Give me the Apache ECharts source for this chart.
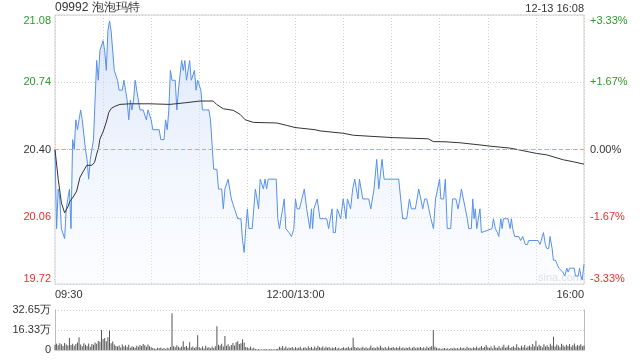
<!DOCTYPE html>
<html><head><meta charset="utf-8">
<script src="https://cdn.jsdelivr.net/npm/echarts@6/dist/echarts.min.js"></script>
<style>html,body{margin:0;padding:0;background:#fff}#c{width:640px;height:360px}</style>
</head><body><div id="c"></div>
<script>
const title = '09992 泡泡玛特';
const stamp = '12-13 16:08';
const prevClose = 20.40;
const xLabels = {0: '09:30', 150: '12:00/13:00', 330: '16:00'};
const volLabels = ['0', '16.33万', '32.65万'];

const minutes = [0,1,2,3,4,5,6,7,8,9,10,11,12,13,14,15,16,17,18,19,20,21,22,23,24,25,26,27,28,29,30,31,32,33,34,35,36,37,38,39,40,41,42,43,44,45,46,47,48,49,50,51,52,53,54,55,56,57,58,59,60,61,62,63,64,65,66,67,68,69,70,71,72,73,74,75,76,77,78,79,80,81,82,83,84,85,86,87,88,89,90,91,92,93,94,95,96,97,98,99,100,101,102,103,104,105,106,107,108,109,110,111,112,113,114,115,116,117,118,119,120,121,122,123,124,125,126,127,128,129,130,131,132,133,138,139,140,143,144,146,147.5,149,150,151,152.5,154,155.5,157,159,160,160.7,161.5,162.4,163.6,164.4,165.3,169.5,170.7,171.5,172.8,173.6,174.9,176.1,177,178.2,179,179.8,180.7,181.5,182.4,183.6,184.4,185.7,187,188.2,189,189.9,190.7,192,195.7,197,197.8,199,200.7,202,202.8,204,205.3,214.4,216.9,219.4,221.1,222.3,224.8,226.9,228.2,229.4,230.6,231.9,233.2,234.5,236.1,237.4,238.6,239.9,240.7,242.4,243.5,244.7,246.8,248,250.1,251.4,252.6,253.5,254.7,256,257.2,258.1,259.7,260.6,261.4,262.2,263.1,263.9,265.1,266,272.6,273.5,274.7,276,276.8,278.1,278.9,279.7,282.6,283.9,284.7,285.5,286.8,289.3,290.5,291.8,293.4,294.7,295.5,301.3,302.6,303.8,304.7,305.9,306.7,308,308.8,310.1,310.9,312.2,313.4,314.3,315.5,316.8,318,319.3,320.1,321,323.9,324.7,326.4,327.2,328.1,328.9,330];
const prices = [20.40,20.00,20.20,20.15,20.00,20.00,19.95,20.10,20.15,20.20,20.00,20.45,20.40,20.55,20.50,20.55,20.60,20.55,20.55,20.40,20.35,20.25,20.35,20.40,20.45,20.45,20.85,20.75,20.90,20.90,20.95,20.90,20.80,21.00,21.05,21.00,21.00,20.80,20.80,20.75,20.70,20.70,20.70,20.75,20.70,20.65,20.55,20.65,20.60,20.65,20.75,20.70,20.70,20.60,20.60,20.60,20.60,20.55,20.60,20.60,20.55,20.50,20.50,20.50,20.50,20.50,20.45,20.45,20.45,20.55,20.50,20.60,20.80,20.75,20.75,20.75,20.60,20.70,20.70,20.85,20.80,20.85,20.75,20.75,20.85,20.75,20.75,20.80,20.70,20.75,20.75,20.70,20.60,20.60,20.60,20.60,20.60,20.55,20.55,20.30,20.30,20.30,20.20,20.20,20.20,20.10,20.20,20.20,20.25,20.25,20.15,20.15,20.10,20.10,20.05,20.05,20.05,19.94,19.88,20.00,20.10,20.00,20.00,20.00,20.10,20.20,20.20,20.10,20.25,20.25,20.20,20.25,20.20,20.25,20.25,20.05,20.00,20.15,20.00,19.98,19.96,20.00,20.15,20.10,20.10,20.15,20.20,20.10,20.00,20.10,20.00,20.10,20.10,20.15,20.15,20.05,20.05,20.00,20.00,20.10,19.98,19.98,20.10,20.10,20.05,20.05,20.15,20.10,20.05,20.15,20.15,20.10,20.20,20.25,20.25,20.15,20.25,20.25,20.15,20.15,20.10,20.10,20.20,20.35,20.20,20.20,20.35,20.25,20.25,20.05,20.05,20.15,20.10,20.10,20.20,20.15,20.10,20.15,20.15,20.10,20.05,20.00,20.15,20.15,20.25,20.15,20.15,20.25,20.00,20.00,20.15,20.15,20.10,20.15,20.20,20.20,20.10,20.05,20.00,20.00,20.15,20.05,20.10,20.00,20.00,20.10,19.98,20.00,20.05,20.00,19.98,19.96,20.05,20.00,20.05,20.05,20.00,20.05,20.00,19.96,19.96,19.94,19.96,19.92,19.92,19.94,19.94,19.92,19.92,19.98,19.92,19.90,19.90,19.96,19.90,19.84,19.84,19.84,19.80,19.80,19.78,19.76,19.80,19.78,19.80,19.80,19.76,19.76,19.80,19.76,19.74,19.82];

const avgMinutes = [0,2,4,6,8,9.4,11.4,13.5,15.6,17.7,19.8,23,24.7,26,27.2,28,30.2,32.2,33.5,35.1,37.6,40.5,46.8,59.3,71.7,81,90.4,98.7,100.8,105,111.2,115.4,118.5,123.7,138.3,144.5,149.7,162.2,165.3,179.8,186.1,211,232.9,236,243.3,252.6,265.1,271.3,283.9,290.1,300.5,306.7,317.1,323.3,330];
const avgPrices = [20.40,20.25,20.13,20.08,20.11,20.14,20.16,20.19,20.26,20.29,20.32,20.32,20.335,20.377,20.41,20.452,20.494,20.544,20.586,20.608,20.619,20.628,20.631,20.631,20.628,20.636,20.645,20.645,20.628,20.606,20.598,20.578,20.551,20.537,20.534,20.522,20.511,20.50,20.494,20.482,20.472,20.46,20.454,20.44,20.439,20.434,20.423,20.417,20.407,20.397,20.38,20.373,20.348,20.338,20.326];

const volumes = [
4.2,5.1,3.8,5.5,4.6,3.2,5.8,4.4,3.6,9.8,
4.1,5.2,3.4,4.8,6.1,10.4,4.5,3.1,5.6,4.2,
3.3,5.4,2.6,4.9,4.3,6.2,5.1,7.4,6.8,16.4,
8.9,9.8,7.1,10.4,16.0,5.6,6.9,4.4,3.2,2.8,
3.6,2.1,4.5,2.9,3.8,2.4,4.2,1.8,3.1,2.5,
1.9,3.4,2.6,4.1,3.2,4.8,3.9,2.7,4.5,3.1,
2.2,1.6,1.2,0.9,1.8,1.4,2.1,1.1,1.6,0.8,
1.9,1.3,2.4,30.0,3.1,2.2,3.8,2.6,1.9,2.8,
7.1,2.4,3.2,1.8,6.4,2.1,2.9,1.7,2.6,12.0,
2.3,1.5,2.8,1.2,3.4,1.9,2.2,1.4,2.9,1.6,
3.1,19.3,4.2,3.6,5.1,2.8,11.5,3.4,4.6,2.9,
4.1,5.8,3.7,6.3,7.1,4.9,5.6,8.7,6.2,2.4,
2.1,1.4,2.8,1.2,1.9,0.8,0.6,0.9,0.5,0.7,
0.4,0.8,0.6,0.5,0.9,0.6,0.7,0.4,0.8,1.1,
2.6,1.8,3.2,1.4,2.9,1.2,2.1,1.6,2.4,1.3,
2.2,1.4,1.9,2.7,1.1,1.8,2.3,1.5,3.1,1.7,
2.5,1.2,2.9,1.6,3.4,2.2,1.9,2.8,1.4,2.6,
1.8,2.4,1.3,2.1,1.6,2.5,1.2,1.9,0.9,1.6,
2.3,1.4,1.8,2.6,1.5,2.1,10.0,2.4,1.6,2.2,
1.3,1.9,2.7,1.5,2.3,1.2,1.8,3.6,1.7,2.2,
1.4,2.6,1.8,3.4,2.1,1.5,2.4,1.3,2.8,1.6,
1.9,2.5,1.4,2.2,1.7,2.9,1.5,2.3,1.2,2.0,
1.6,2.4,1.3,1.9,2.6,1.4,2.1,1.8,2.5,1.5,
2.2,1.3,2.8,1.7,2.4,3.1,16.4,2.6,1.8,1.2,
1.5,0.9,1.3,1.7,1.1,1.4,0.8,1.6,1.2,1.9,
1.3,1.7,1.0,2.2,1.4,1.8,1.1,2.6,1.5,1.9,
1.2,2.3,1.6,2.8,1.4,2.0,3.2,1.7,2.4,4.1,
2.2,1.6,2.9,1.3,3.6,2.1,1.8,3.3,1.5,2.6,
4.2,1.9,2.7,3.8,1.6,2.4,3.1,1.8,4.6,2.3,
1.7,3.5,2.2,4.1,1.9,2.8,3.6,2.4,4.8,3.1,
7.5,2.6,4.2,3.3,2.1,4.6,2.8,3.9,2.5,5.2,
3.4,10.9,2.9,4.4,3.6,2.2,5.1,3.8,2.7,4.3,
3.2,4.9,2.6,3.9,5.3,2.8,4.1,3.5,4.7,3.0,
3.6];

const GREEN = '#2a9d2a', RED = '#e8302a', DARK = '#333';
const FONT = '"Liberation Sans", Arial, sans-serif';
function colorFor(v){ const d = Math.round((v - prevClose)*1000); return d > 0 ? GREEN : (d < 0 ? RED : DARK); }

const chart = echarts.init(document.getElementById('c'), null, {renderer: 'canvas'});
const gridLine = {show: true, lineStyle: {color: '#d0d0d0', type: [1, 2], width: 1}};
chart.setOption({
  animation: false,
  textStyle: {fontFamily: FONT},
  title: [
    {text: title, left: 55, top: 2, padding: 0, textStyle: {fontSize: 12, fontWeight: 'normal', color: DARK, fontFamily: FONT}},
    {text: stamp, right: 56, top: 3, padding: 0, textStyle: {fontSize: 11, fontWeight: 'normal', color: DARK, fontFamily: FONT}}
  ],
  graphic: [{type: 'text', right: 58, top: 272, style: {text: 'sina.com', fill: '#dadada', font: '11px ' + FONT}}],
  grid: [
    {left: 55, right: 56, top: 15, height: 269, show: true, borderColor: '#cfcfcf', borderWidth: 1},
    {left: 55, right: 56, top: 310, height: 40}
  ],
  xAxis: [
    {type: 'value', gridIndex: 0, min: 0, max: 330, interval: 30,
     axisLine: {show: false}, axisTick: {show: false}, splitLine: gridLine,
     axisLabel: {show: true, interval: 0, margin: 5, color: DARK, fontSize: 11, fontFamily: FONT,
       showMinLabel: true, showMaxLabel: true, alignMinLabel: 'left', alignMaxLabel: 'right',
       formatter: v => xLabels[Math.round(v)] || ''}},
    {type: 'value', gridIndex: 1, min: 0, max: 330, interval: 30,
     axisLine: {show: true, lineStyle: {color: '#cfcfcf'}}, axisTick: {show: false}, splitLine: {show: false}, axisLabel: {show: false}}
  ],
  yAxis: [
    {type: 'value', gridIndex: 0, min: 19.72, max: 21.08, interval: 0.34,
     axisLine: {show: false}, axisTick: {show: false}, splitLine: gridLine,
     axisLabel: {margin: 4, fontSize: 11, fontFamily: FONT, formatter: v => v.toFixed(2), color: v => colorFor(v),
       verticalAlignMinLabel: 'bottom', verticalAlignMaxLabel: 'top'}},
    {type: 'value', gridIndex: 0, min: 19.72, max: 21.08, interval: 0.34, position: 'right',
     axisLine: {show: false}, axisTick: {show: false}, splitLine: {show: false},
     axisLabel: {margin: 6, fontSize: 11, fontFamily: FONT, color: v => colorFor(v),
       verticalAlignMinLabel: 'bottom', verticalAlignMaxLabel: 'top',
       formatter: v => { const p = (v - prevClose)/prevClose*100; const s = p.toFixed(2); return (Math.abs(p) < 0.005 ? '0.00' : (p > 0 ? '+' + s : s)) + '%'; }}},
    {type: 'value', gridIndex: 1, min: 0, max: 32.65, interval: 16.325,
     axisLine: {show: true, lineStyle: {color: '#bbb'}}, axisTick: {show: false},
     splitLine: {show: true, lineStyle: {color: '#d0d0d0', type: [1, 2]}},
     axisLabel: {margin: 4, fontSize: 11, fontFamily: FONT, color: DARK, formatter: (v, i) => volLabels[i] || ''}},
    {type: 'value', gridIndex: 1, min: 0, max: 32.65, interval: 16.325, position: 'right',
     axisLine: {show: true, lineStyle: {color: '#bbb'}}, axisTick: {show: false}, splitLine: {show: false}, axisLabel: {show: false}}
  ],
  series: [
    {type: 'line', xAxisIndex: 0, yAxisIndex: 0, data: minutes.map((t, i) => [t, prices[i]]),
     symbol: 'none', lineStyle: {color: '#5590ea', width: 1},
     areaStyle: {origin: 'start', color: new echarts.graphic.LinearGradient(0, 0, 0, 1, [
       {offset: 0, color: 'rgba(196,214,246,0.85)'}, {offset: 1, color: 'rgba(240,245,255,0.35)'}])},
     markLine: {silent: true, symbol: 'none', label: {show: false},
       lineStyle: {color: '#f0a06a', type: [4, 3], width: 1}, data: [{yAxis: prevClose}]}},
    {type: 'line', xAxisIndex: 0, yAxisIndex: 0, data: avgMinutes.map((t, i) => [t, avgPrices[i]]),
     symbol: 'none', lineStyle: {color: '#333', width: 1}},
    {type: 'bar', xAxisIndex: 1, yAxisIndex: 2, data: volumes.map((v, i) => [i, v]),
     barWidth: 1, itemStyle: {color: '#555'}}
  ]
});
</script></body></html>
